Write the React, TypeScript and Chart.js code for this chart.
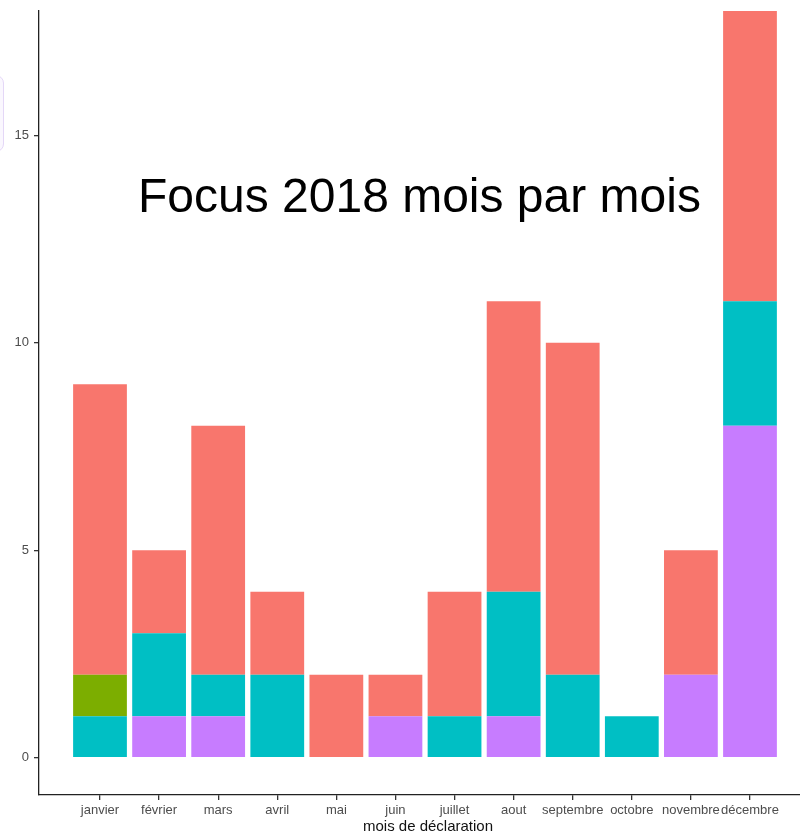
import React, { useEffect, useRef } from "react";
import { Chart, registerables } from "chart.js";
Chart.register(...registerables);

const months = ["janvier", "février", "mars", "avril", "mai", "juin", "juillet", "aout", "septembre", "octobre", "novembre", "décembre"];
const violet = [0, 1, 1, 0, 0, 1, 0, 1, 0, 0, 2, 8];
const cyan = [1, 2, 1, 2, 0, 0, 1, 3, 2, 1, 0, 3];
const vert = [1, 0, 0, 0, 0, 0, 0, 0, 0, 0, 0, 0];
const rouge = [7, 2, 6, 2, 2, 1, 3, 7, 8, 0, 3, 7];
const yTicks = [0, 5, 10, 15];

const FONT = "'Liberation Sans', Arial, sans-serif";

export default function App() {
  const ref = useRef<HTMLCanvasElement | null>(null);

  useEffect(() => {
    if (!ref.current) return;
    const toPts = (arr: number[]) => arr.map((v, i) => ({ x: i + 1, y: v }));
    const mk = (label: string, arr: number[], color: string) => ({
      label,
      data: toPts(arr),
      backgroundColor: color,
      borderWidth: 0,
      barPercentage: 0.91,
      categoryPercentage: 1,
    });
    const chart = new Chart(ref.current, {
      type: "bar",
      data: {
        datasets: [
          mk("violet", violet, "#C77CFF"),
          mk("cyan", cyan, "#00BFC4"),
          mk("vert", vert, "#7CAE00"),
          mk("rouge", rouge, "#F8766D"),
        ],
      },
      options: {
        animation: false,
        responsive: false,
        devicePixelRatio: 1,
        layout: { padding: { top: 11, left: 0, right: 0, bottom: 0 } },
        plugins: { legend: { display: false }, tooltip: { enabled: false }, title: { display: false } },
        scales: {
          x: {
            type: "linear",
            min: -0.0323,
            max: 13.134,
            stacked: true,
            offset: false,
            afterBuildTicks: (s: any) => {
              s.ticks = months.map((_, i) => ({ value: i + 1 }));
            },
            afterFit: (s: any) => {
              s.height = 41;
              s.paddingLeft = 0;
              s.paddingRight = 0;
            },
            ticks: {
              autoSkip: false,
              maxRotation: 0,
              minRotation: 0,
              padding: 3,
              color: "#4D4D4D",
              font: { family: FONT, size: 13 },
              callback: (v: any) => months[Math.round(Number(v)) - 1] ?? "",
            },
            grid: { display: true, offset: false, drawOnChartArea: false, drawTicks: true, tickLength: 5, tickColor: "#333333", tickWidth: 1.3, color: "#333333", lineWidth: 1.3 },
            border: { display: true, color: "#222222", width: 1.3 },
            title: {
              display: true,
              text: "mois de déclaration",
              color: "#111111",
              font: { family: FONT, size: 15 },
              padding: { top: 0, bottom: 0 },
            },
          },
          y: {
            type: "linear",
            min: -0.9,
            max: 18,
            stacked: true,
            afterBuildTicks: (s: any) => {
              s.ticks = yTicks.map((v) => ({ value: v }));
            },
            afterFit: (s: any) => {
              s.width = 39;
              s.paddingTop = 0;
              s.paddingBottom = 0;
            },
            ticks: {
              padding: 5,
              color: "#4D4D4D",
              font: { family: FONT, size: 13 },
            },
            grid: { display: true, drawOnChartArea: false, drawTicks: true, tickLength: 5, tickColor: "#333333", tickWidth: 1.3, color: "#333333", lineWidth: 1.3 },
            border: { display: true, color: "#222222", width: 1.3 },
          },
        },
      },
    });
    return () => chart.destroy();
  }, []);

  return (
    <div style={{ position: "absolute", left: 0, top: 0, width: 800, height: 836, overflow: "hidden", background: "#ffffff" }}>
      <canvas ref={ref} width={817} height={836} style={{ display: "block", width: 817, height: 836 }} />
      <div
        style={{
          position: "absolute",
          left: -12,
          top: 75,
          width: 14,
          height: 75,
          border: "1px solid #E4D7F7",
          borderRadius: 8,
          background: "#FAF7FE",
        }}
      />
      <div
        style={{
          position: "absolute",
          left: 138,
          top: 172,
          fontFamily: FONT,
          fontSize: 48,
          lineHeight: "48px",
          color: "#000000",
          whiteSpace: "nowrap",
        }}
      >
        Focus 2018 mois par mois
      </div>
    </div>
  );
}
